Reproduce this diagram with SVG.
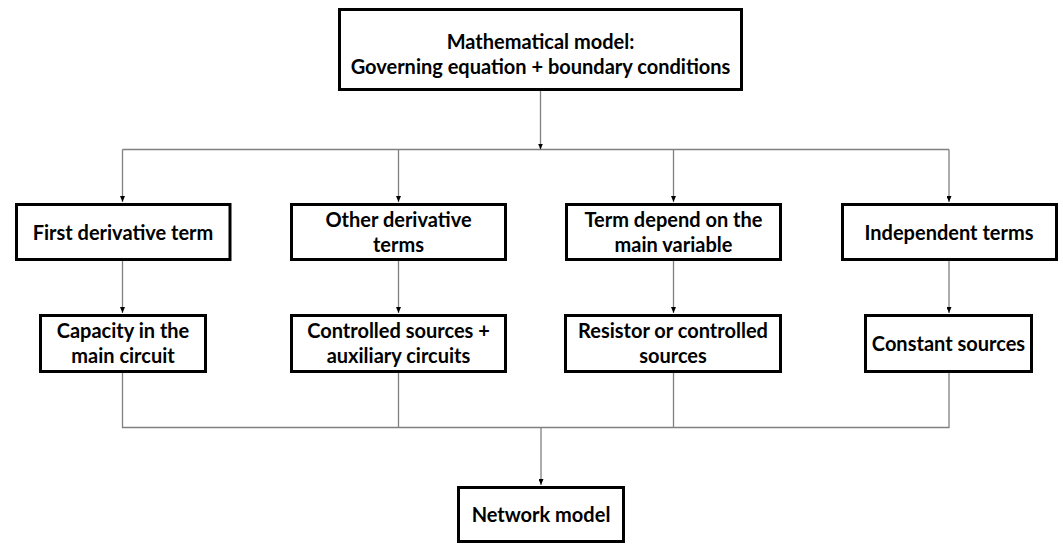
<svg xmlns="http://www.w3.org/2000/svg" width="1063" height="545" viewBox="0 0 1063 545">
<style>
.box{fill:#fff;stroke:#000;stroke-width:3}
.t{font-family:Lato,"Liberation Sans",sans-serif;font-weight:bold;font-size:20px;fill:#000;text-anchor:middle}
.c{fill:none;stroke:#808080;stroke-width:1.3}
</style>
<defs>
<marker id="ah" viewBox="0 0 6 5" refX="6" refY="2.5" markerWidth="6" markerHeight="5" markerUnits="userSpaceOnUse" orient="auto">
<path d="M0,0 L6,2.5 L0,5 z" fill="#000"/>
</marker>
</defs>
<rect width="1063" height="545" fill="#fff"/>
<g id="connectors">
<line class="c" x1="540.5" y1="91" x2="540.5" y2="148"/>
<path class="c" d="M122.5,149.5 H949"/>
<line class="c" x1="540.5" y1="148" x2="540.5" y2="149.5" marker-end="url(#ah)"/>
<line class="c" x1="122.5" y1="149.5" x2="122.5" y2="202" marker-end="url(#ah)"/>
<line class="c" x1="398.5" y1="149.5" x2="398.5" y2="202" marker-end="url(#ah)"/>
<line class="c" x1="673.5" y1="149.5" x2="673.5" y2="202" marker-end="url(#ah)"/>
<line class="c" x1="949" y1="149.5" x2="949" y2="202" marker-end="url(#ah)"/>
<line class="c" x1="122.5" y1="261" x2="122.5" y2="313" marker-end="url(#ah)"/>
<line class="c" x1="398.5" y1="261" x2="398.5" y2="313" marker-end="url(#ah)"/>
<line class="c" x1="673.5" y1="261" x2="673.5" y2="313" marker-end="url(#ah)"/>
<line class="c" x1="949" y1="261" x2="949" y2="313" marker-end="url(#ah)"/>
<path class="c" d="M122.5,373 V427.5 H949 V373 M398.5,373 V427.5 M673.5,373 V427.5"/>
<line class="c" x1="541" y1="427.5" x2="541" y2="485" marker-end="url(#ah)"/>
</g>
<g id="n-math">
<rect class="box" x="339.5" y="9.5" width="402" height="80"/>
<text class="t" x="540.5" y="49">Mathematical model:</text>
<text class="t" x="540.5" y="74">Governing equation + boundary conditions</text>
</g>
<g id="n-first">
<rect class="box" x="16.5" y="204.5" width="213.5" height="55"/>
<text class="t" x="123" y="240">First derivative term</text>
</g>
<g id="n-other">
<rect class="box" x="291.5" y="204.5" width="214" height="55"/>
<text class="t" x="398.5" y="227">Other derivative</text>
<text class="t" x="398.5" y="252">terms</text>
</g>
<g id="n-depend">
<rect class="box" x="566.5" y="204.5" width="214" height="55"/>
<text class="t" x="673.5" y="227">Term depend on the</text>
<text class="t" x="673.5" y="252">main variable</text>
</g>
<g id="n-indep">
<rect class="box" x="842.5" y="204.5" width="214" height="55"/>
<text class="t" x="949" y="240">Independent terms</text>
</g>
<g id="n-capacity">
<rect class="box" x="40.5" y="315.5" width="165" height="56"/>
<text class="t" x="123" y="338">Capacity in the</text>
<text class="t" x="123" y="363">main circuit</text>
</g>
<g id="n-controlled">
<rect class="box" x="291.5" y="315.5" width="214" height="56"/>
<text class="t" x="398.5" y="338">Controlled sources +</text>
<text class="t" x="398.5" y="363">auxiliary circuits</text>
</g>
<g id="n-resistor">
<rect class="box" x="565.5" y="315.5" width="215" height="56"/>
<text class="t" x="673" y="338">Resistor or controlled</text>
<text class="t" x="673" y="363">sources</text>
</g>
<g id="n-constant">
<rect class="box" x="865.5" y="315.5" width="166" height="56"/>
<text class="t" x="948.5" y="351">Constant sources</text>
</g>
<g id="n-network">
<rect class="box" x="458.5" y="487.5" width="165" height="54"/>
<text class="t" x="541" y="522">Network model</text>
</g>
</svg>
